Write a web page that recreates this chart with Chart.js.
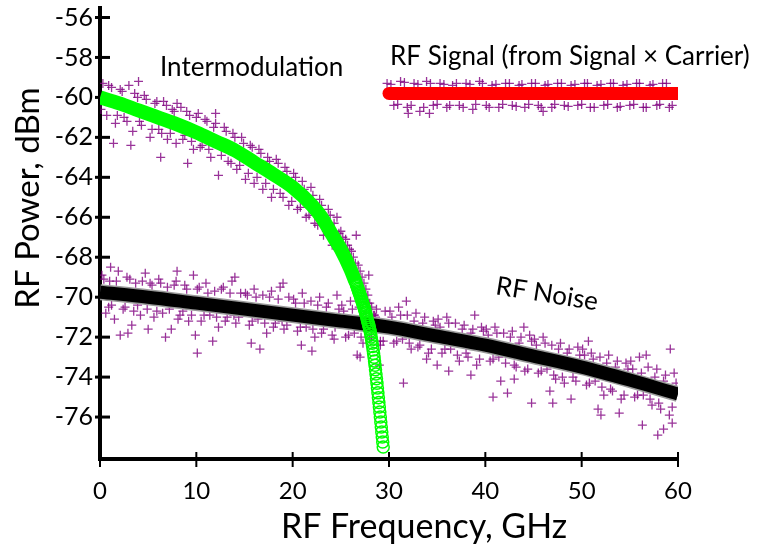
<!DOCTYPE html>
<html>
<head>
<meta charset="utf-8">
<script src="https://cdn.jsdelivr.net/npm/chart.js@4.4.1/dist/chart.umd.min.js"></script>
<style>
html, body { margin: 0; padding: 0; background: #fff; }
#wrap { width: 762px; height: 552px; }
</style>
</head>
<body>
<div id="wrap"><canvas id="chart" width="762" height="552"></canvas></div>
<script>
// Axis ticks
const xTicks = [0, 10, 20, 30, 40, 50, 60];
const yTicks = [-56, -58, -60, -62, -64, -66, -68, -70, -72, -74, -76];

// RF signal (flat, red)
const signalX = [30, 40, 50, 60];
const signalY = [-59.8, -59.8, -59.8, -59.8];

// Intermodulation curve (green) - solid part
const intermodX = [0, 2, 4, 6, 8, 10, 12, 14, 16, 18, 20, 22, 23, 24, 25, 26, 26.5];
const intermodY = [-60.0, -60.3, -60.65, -61.0, -61.35, -61.75, -62.2, -62.65, -63.25, -63.85, -64.5, -65.4, -66.0, -66.8, -67.6, -68.6, -69.2];

// Intermodulation tail where the circles show
const tailX = [26.5, 26.55, 26.6, 26.65, 26.7, 26.75, 26.8, 26.85, 26.9, 26.95, 27.0, 27.05, 27.1, 27.15, 27.2, 27.25, 27.3, 27.35, 27.4, 27.45, 27.5, 27.55, 27.6, 27.65, 27.7, 27.75, 27.8, 27.85, 27.9, 27.95, 28.0, 28.05, 28.1, 28.15, 28.2, 28.25, 28.3, 28.35, 28.4, 28.45, 28.5, 28.55, 28.6, 28.65, 28.7, 28.75, 28.8, 28.85, 28.9, 28.95, 29.0, 29.05, 29.1, 29.15, 29.2, 29.25, 29.3, 29.35, 29.4];
const tailY = [-69.2, -69.27, -69.34, -69.41, -69.48, -69.55, -69.62, -69.69, -69.76, -69.83, -69.9, -69.97, -70.05, -70.12, -70.2, -70.27, -70.35, -70.42, -70.5, -70.57, -70.65, -70.74, -70.83, -70.93, -71.03, -71.13, -71.23, -71.32, -71.41, -71.5, -71.6, -71.72, -71.85, -71.99, -72.14, -72.3, -72.47, -72.64, -72.82, -73.01, -73.2, -73.41, -73.63, -73.85, -74.08, -74.31, -74.55, -74.79, -75.03, -75.27, -75.5, -75.75, -76.0, -76.25, -76.5, -76.75, -77.0, -77.25, -77.5];

// RF noise trend (black)
const noiseX = [0, 5, 10, 15, 20, 25, 30, 35, 40, 45, 50, 55, 60];
const noiseY = [-69.75, -70.0, -70.3, -70.6, -70.9, -71.2, -71.5, -71.95, -72.4, -72.95, -73.5, -74.15, -74.85];

// Measured points (purple crosses) around each curve
const measNoise = [
  [0.2,-68.9],[0.6,-70.8],[1.0,-69.2],[1.5,-71.1],[1.9,-68.7],[2.4,-70.6],[2.8,-69.0],[3.3,-71.4],[3.7,-69.3],[4.2,-70.9],[4.7,-68.8],[0.9,-70.5],[2.1,-71.9],[3.9,-70.4],
  [5.2,-69.3],[5.6,-71.0],[6.1,-69.1],[6.5,-70.8],[7.0,-69.5],[7.4,-71.6],[7.9,-69.2],[8.3,-70.9],[8.8,-69.4],[9.2,-71.2],[9.7,-68.9],[6.8,-72.0],[8.6,-70.7],
  [10.1,-69.6],[10.5,-71.2],[11.0,-69.3],[11.4,-70.9],[11.9,-69.7],[12.3,-71.5],[12.8,-69.5],[13.2,-71.0],[13.7,-69.2],[14.1,-71.3],[14.6,-69.8],[11.7,-72.2],[13.9,-70.9],[10.1,-72.8],
  [15.1,-69.8],[15.5,-71.4],[16.0,-69.6],[16.4,-71.1],[16.9,-69.9],[17.3,-71.8],[17.8,-69.7],[18.2,-71.3],[18.7,-69.5],[19.1,-71.6],[19.6,-70.0],[16.6,-72.6],[18.9,-71.2],
  [20.1,-70.1],[20.5,-71.7],[21.0,-69.8],[21.4,-71.5],[21.9,-70.2],[22.3,-72.0],[22.8,-70.0],[23.2,-71.6],[23.7,-70.3],[24.1,-71.9],[24.6,-69.9],[22.0,-72.7],[24.4,-71.5],
  [25.1,-70.4],[25.5,-72.0],[26.0,-70.2],[26.4,-71.8],[26.9,-70.5],[27.3,-72.3],[27.8,-70.3],[28.2,-72.0],[28.7,-70.6],[29.1,-72.4],[29.6,-70.7],[26.7,-72.9],[29.0,-73.4],
  [30.1,-70.7],[30.5,-72.3],[31.0,-70.5],[31.4,-72.1],[31.9,-70.9],[32.3,-72.6],[32.8,-70.8],[33.2,-72.4],[33.7,-71.0],[34.1,-72.8],[34.6,-71.2],[31.5,-74.3],[33.9,-73.1],
  [35.1,-71.1],[35.5,-72.8],[36.0,-71.0],[36.4,-72.6],[36.9,-71.3],[37.3,-73.2],[37.8,-71.4],[38.2,-73.0],[38.7,-71.6],[39.1,-73.4],[39.6,-71.5],[36.2,-73.7],[38.5,-73.9],
  [40.1,-71.6],[40.5,-73.2],[41.0,-71.5],[41.4,-73.0],[41.9,-71.8],[42.3,-74.8],[42.8,-71.7],[43.2,-73.5],[43.7,-72.0],[44.1,-73.7],[44.6,-71.9],[40.8,-75.0],[44.8,-75.3],[43.0,-74.1],
  [45.1,-72.1],[45.5,-73.8],[46.0,-72.0],[46.4,-73.6],[46.9,-72.4],[47.3,-74.1],[47.8,-72.3],[48.2,-74.3],[48.7,-72.6],[49.1,-74.0],[49.6,-72.5],[46.7,-74.7],[48.9,-75.1],
  [50.1,-72.6],[50.5,-74.4],[51.0,-72.8],[51.4,-74.2],[51.9,-73.0],[52.3,-74.9],[52.8,-72.9],[53.2,-74.7],[53.7,-73.2],[54.1,-75.1],[54.6,-73.3],[51.7,-75.6],[53.9,-75.8],
  [55.1,-73.2],[55.5,-75.0],[56.0,-73.0],[56.4,-74.9],[56.9,-73.5],[57.3,-75.4],[57.8,-73.6],[58.2,-75.6],[58.7,-73.9],[59.1,-75.9],[59.6,-73.8],[56.3,-76.4],[58.5,-76.6],[59.4,-76.3],
  [0.4,-69.1],[1.2,-70.4],[1.7,-69.2],[2.6,-70.5],[3.1,-69.1],[3.5,-70.7],[4.4,-69.2],[4.9,-70.6],
  [5.4,-69.4],[5.9,-70.7],[6.3,-69.3],[7.2,-70.6],[7.7,-69.4],[8.1,-71.1],[9.0,-69.6],[9.5,-70.9],
  [10.3,-69.5],[10.8,-70.9],[11.2,-69.8],[12.1,-71.0],[12.6,-69.6],[13.0,-71.2],[13.5,-69.8],[14.4,-71.0],
  [15.3,-69.9],[15.8,-71.2],[16.2,-70.0],[17.1,-71.3],[17.6,-70.0],[18.0,-71.5],[18.5,-70.1],[19.4,-71.4],
  [20.3,-70.3],[20.8,-71.5],[21.2,-70.3],[22.1,-71.6],[22.6,-70.4],[23.0,-71.8],[23.5,-70.5],[24.3,-72.1],[24.8,-70.6],
  [25.3,-70.7],[25.8,-71.9],[26.2,-70.6],[27.1,-72.0],[27.6,-70.8],[28.0,-72.1],[28.5,-70.9],[29.4,-72.2],
  [30.3,-71.0],[30.8,-72.2],[31.2,-70.9],[32.1,-72.3],[32.6,-71.2],[33.0,-72.5],[33.5,-71.3],[34.4,-72.6],[34.8,-71.4],
  [35.3,-71.5],[35.8,-72.6],[36.2,-71.3],[37.1,-72.9],[37.6,-71.6],[38.0,-72.8],[38.5,-71.8],[39.4,-73.1],[39.8,-71.7],
  [40.3,-71.9],[40.8,-73.1],[41.2,-71.8],[42.1,-73.3],[42.6,-72.0],[43.0,-73.4],[43.5,-72.3],[44.4,-73.6],[44.8,-72.2],
  [45.3,-72.4],[45.8,-73.7],[46.2,-72.3],[47.1,-73.9],[47.6,-72.6],[48.0,-74.0],[48.5,-72.8],[49.4,-74.2],[49.8,-72.9],
  [50.3,-72.9],[50.8,-74.3],[51.2,-73.1],[52.1,-74.5],[52.6,-73.3],[53.0,-74.6],[53.5,-73.5],[54.4,-74.9],[54.8,-73.6],
  [55.3,-73.6],[55.8,-74.9],[56.2,-73.8],[57.1,-75.1],[57.6,-74.0],[58.0,-75.3],[58.5,-74.2],[59.4,-75.5],[59.8,-74.3],
  [2.9,-71.8],[5.0,-71.6],[9.9,-71.9],[15.7,-72.3],[20.9,-72.4],[27.0,-73.0],[35.0,-73.4],[41.6,-74.2],[47.0,-75.3],[52.0,-75.9],[57.9,-76.9],
  [1.1,-68.5],[8.0,-68.7],[14.0,-69.0],[19.0,-69.3],[31.8,-70.2],[38.9,-70.9],[44.0,-71.5],[50.7,-72.2],[56.7,-72.9],[59.2,-72.6]
];
const measIntermod = [
  [0.3,-59.3],[0.7,-60.9],[1.2,-59.5],[1.6,-61.3],[2.1,-59.6],[2.5,-61.0],[3.0,-59.4],[3.4,-61.7],[3.9,-60.0],[4.3,-61.4],[4.8,-60.1],[5.2,-62.0],[5.7,-60.3],[6.1,-61.6],
  [6.6,-60.2],[7.0,-62.1],[7.5,-60.6],[7.9,-62.3],[8.4,-60.5],[8.8,-61.9],[9.3,-60.9],[9.7,-62.6],[10.2,-60.8],[10.6,-62.4],[11.1,-61.2],[11.5,-63.0],[12.0,-61.3],[12.3,-63.9],
  [12.9,-61.5],[13.3,-63.2],[13.8,-61.8],[14.2,-63.6],[14.7,-62.0],[15.1,-64.1],[15.6,-62.4],[16.0,-64.3],[16.5,-62.6],[16.9,-64.6],[17.4,-63.0],[17.8,-65.0],[18.3,-63.1],[18.7,-64.8],
  [19.2,-63.5],[19.6,-65.4],[20.1,-63.8],[20.5,-65.6],[21.0,-64.2],[21.4,-66.0],[21.9,-64.5],[22.3,-66.3],[22.8,-65.1],[23.2,-66.9],[23.7,-65.6],[24.1,-67.4],[24.6,-66.0],[25.0,-66.7],
  [25.5,-67.1],[25.9,-67.6],[26.3,-68.0],[26.8,-68.4],[27.2,-69.0],[27.6,-69.6],[28.0,-70.3],[28.4,-70.9],[28.8,-71.5],[29.1,-72.2],[27.9,-68.9],[26.6,-66.9],[1.4,-62.3],[4.0,-59.2],
  [8.0,-60.3],[12.0,-60.8],
  [0.1,-60.6],[0.9,-59.4],[1.8,-60.9],[2.3,-59.7],[2.8,-61.2],[3.6,-59.8],[4.1,-61.2],[4.6,-59.9],[5.4,-61.6],[5.9,-60.2],[6.4,-61.8],[6.9,-60.4],
  [7.3,-61.8],[7.7,-60.7],[8.6,-62.1],[9.0,-60.7],[9.5,-62.2],[10.0,-61.0],[10.4,-62.5],[10.9,-61.1],[11.3,-62.6],[11.8,-61.5],[12.6,-62.9],[13.1,-61.7],
  [13.6,-63.3],[14.0,-62.0],[14.5,-63.4],[14.9,-62.3],[15.4,-63.8],[15.8,-62.5],[16.3,-64.0],[16.7,-62.8],[17.2,-64.3],[17.6,-63.2],[18.0,-64.6],[18.5,-63.3],
  [19.0,-65.0],[19.4,-63.7],[19.9,-65.2],[20.3,-64.0],[20.8,-65.5],[21.2,-64.6],[21.7,-65.9],[22.1,-64.9],[22.6,-66.4],[23.0,-65.4],[23.5,-66.7],[23.9,-65.9],
  [24.3,-66.3],[24.8,-66.8],[25.2,-67.0],[25.7,-67.4],[26.1,-67.7],[26.5,-68.3],[27.0,-68.7],[27.4,-69.3],[27.8,-69.9],[28.2,-70.5],[28.6,-71.0],
  [3.2,-62.4],[6.3,-63.0],[9.1,-63.3]
];
const measSignal = [
  [29.8,-59.3],[30.5,-60.4],[31.2,-59.2],[31.9,-60.5],[32.6,-59.3],[33.2,-60.7],[33.9,-59.2],[34.6,-60.4],[35.3,-59.3],[36.0,-60.5],[36.6,-59.4],[37.3,-60.4],[38.0,-59.3],[38.7,-60.6],
  [39.4,-59.2],[40.1,-60.4],[40.7,-59.4],[41.4,-60.5],[42.1,-59.3],[42.8,-60.4],[43.5,-59.4],[44.1,-60.5],[44.8,-59.3],[45.5,-60.4],[46.2,-59.4],[46.9,-60.5],[47.5,-59.3],[48.2,-60.4],
  [48.9,-59.4],[49.6,-60.4],[50.3,-59.3],[50.9,-60.5],[51.6,-59.4],[52.3,-60.4],[53.0,-59.3],[53.7,-60.5],[54.3,-59.4],[55.0,-60.4],[55.7,-59.3],[56.4,-60.5],[57.1,-59.4],[57.8,-60.4],
  [58.4,-59.3],[59.1,-60.5],[32.0,-60.8],[34.2,-60.8],[46.0,-60.7],
  [30.2,-59.35],[30.9,-60.35],[31.6,-59.25],[32.3,-60.4],[33.0,-59.35],[33.6,-60.5],[34.3,-59.3],[35.0,-60.35],[35.7,-59.35],[36.3,-60.4],[37.0,-59.3],[37.7,-60.5],
  [38.4,-59.35],[39.0,-60.35],[39.7,-59.3],[40.4,-60.5],[41.1,-59.35],[41.8,-60.35],[42.5,-59.3],[43.2,-60.45],[43.8,-59.35],[44.5,-60.35],[45.2,-59.3],[45.8,-60.5],
  [46.5,-59.35],[47.2,-60.35],[47.9,-59.3],[48.6,-60.45],[49.3,-59.35],[50.0,-60.35],[50.6,-59.3],[51.3,-60.5],[52.0,-59.35],[52.7,-60.35],[53.3,-59.3],[54.0,-60.45],
  [54.7,-59.35],[55.4,-60.35],[56.0,-59.3],[56.7,-60.5],[57.4,-59.35],[58.1,-60.35],[58.8,-59.3],[59.4,-60.4]
];

const FONT = 'Lato, "Open Sans", sans-serif';
const purple = 'rgba(128, 0, 128, 0.8)';
const toXY = (xs, ys) => xs.map((x, i) => ({ x: x, y: ys[i] }));
const toPts = arr => arr.map(p => ({ x: p[0], y: p[1] }));

// tick marks that cross the axis lines, drawn under the data
const crossTicks = {
    id: 'crossTicks',
    beforeDatasetsDraw(chart) {
        const ctx = chart.ctx;
        const xs = chart.scales.x, ys = chart.scales.y;
        const area = chart.chartArea;
        ctx.save();
        ctx.strokeStyle = '#000';
        ctx.lineWidth = 3;
        yTicks.forEach(v => {
            const py = ys.getPixelForValue(v);
            ctx.beginPath();
            ctx.moveTo(area.left - 5, py);
            ctx.lineTo(area.left + 10, py);
            ctx.stroke();
        });
        ctx.lineWidth = 2;
        xTicks.forEach(v => {
            const px = xs.getPixelForValue(v);
            ctx.beginPath();
            ctx.moveTo(px, area.bottom - 7);
            ctx.lineTo(px, area.bottom + 8);
            ctx.stroke();
        });
        ctx.restore();
    }
};

// axis titles and the curve labels
const labels = {
    id: 'labels',
    afterDraw(chart) {
        const ctx = chart.ctx;
        ctx.save();
        ctx.fillStyle = '#000';
        ctx.textBaseline = 'middle';
        ctx.textAlign = 'center';

        ctx.font = '34px ' + FONT;
        ctx.fillText('RF Frequency, GHz', 424, 527);

        ctx.font = '33px ' + FONT;
        ctx.save();
        ctx.translate(28, 198);
        ctx.rotate(-Math.PI / 2);
        ctx.fillText('RF Power, dBm', 0, 0);
        ctx.restore();

        ctx.font = '26px ' + FONT;
        ctx.textAlign = 'left';
        ctx.fillText('Intermodulation', 160, 68);
        ctx.fillText('RF Signal (from Signal \u00d7 Carrier)', 390, 57);

        ctx.save();
        ctx.translate(547, 294);
        ctx.rotate(9 * Math.PI / 180);
        ctx.textAlign = 'center';
        ctx.fillText('RF Noise', 0, 0);
        ctx.restore();

        ctx.restore();
    }
};

new Chart(document.getElementById('chart'), {
    type: 'scatter',
    data: {
        datasets: [
            {
                label: 'RF Signal',
                data: toXY(signalX, signalY),
                showLine: true,
                borderColor: '#ff0000',
                borderWidth: 13,
                borderCapStyle: 'round',
                pointRadius: 0,
                order: 1
            },
            {
                label: 'Intermodulation',
                data: toXY(intermodX, intermodY),
                showLine: true,
                borderColor: '#00ff00',
                borderWidth: 14,
                cubicInterpolationMode: 'monotone',
                pointRadius: 0,
                order: 2
            },
            {
                label: 'Intermodulation tail',
                data: toXY(tailX, tailY),
                showLine: false,
                pointStyle: 'circle',
                pointRadius: 6,
                pointBorderWidth: 1.5,
                pointBorderColor: '#00ff00',
                pointBackgroundColor: 'rgba(255,255,255,0)',
                order: 2
            },
            {
                label: 'RF Noise',
                data: toXY(noiseX, noiseY),
                showLine: true,
                borderColor: '#000',
                borderWidth: 13,
                cubicInterpolationMode: 'monotone',
                pointRadius: 0,
                order: 3
            },
            {
                label: 'RF Noise edge',
                data: toXY(noiseX, noiseY),
                showLine: true,
                borderColor: '#9a9a9a',
                borderWidth: 16,
                cubicInterpolationMode: 'monotone',
                pointRadius: 0,
                order: 4
            },
            {
                label: 'Measured',
                data: toPts(measNoise).concat(toPts(measIntermod), toPts(measSignal)),
                pointStyle: 'cross',
                pointRadius: 4.5,
                pointBorderWidth: 1.3,
                pointBorderColor: purple,
                pointBackgroundColor: purple,
                order: 10
            }
        ]
    },
    options: {
        responsive: false,
        animation: false,
        events: [],
        layout: { padding: { top: 7, right: 84, bottom: 0, left: 0 } },
        plugins: {
            legend: { display: false },
            tooltip: { enabled: false }
        },
        scales: {
            x: {
                type: 'linear',
                min: 0,
                max: 60,
                afterBuildTicks: s => { s.ticks = xTicks.map(v => ({ value: v })); },
                afterFit: s => { s.height = 93; s.paddingLeft = 0; s.paddingRight = 0; },
                grid: { display: false, drawTicks: false },
                border: { display: true, color: '#000', width: 4 },
                ticks: { color: '#000', font: { family: FONT, size: 24 }, padding: 18, maxRotation: 0 }
            },
            y: {
                type: 'linear',
                min: -78.1,
                max: -55.5,
                afterBuildTicks: s => { s.ticks = yTicks.map(v => ({ value: v })); },
                afterFit: s => { s.width = 100; s.paddingTop = 0; s.paddingBottom = 0; },
                grid: { display: false, drawTicks: false },
                border: { display: true, color: '#000', width: 4 },
                ticks: { color: '#000', font: { family: FONT, size: 25 }, padding: 7 }
            }
        }
    },
    plugins: [crossTicks, labels]
});
</script>
</body>
</html>
